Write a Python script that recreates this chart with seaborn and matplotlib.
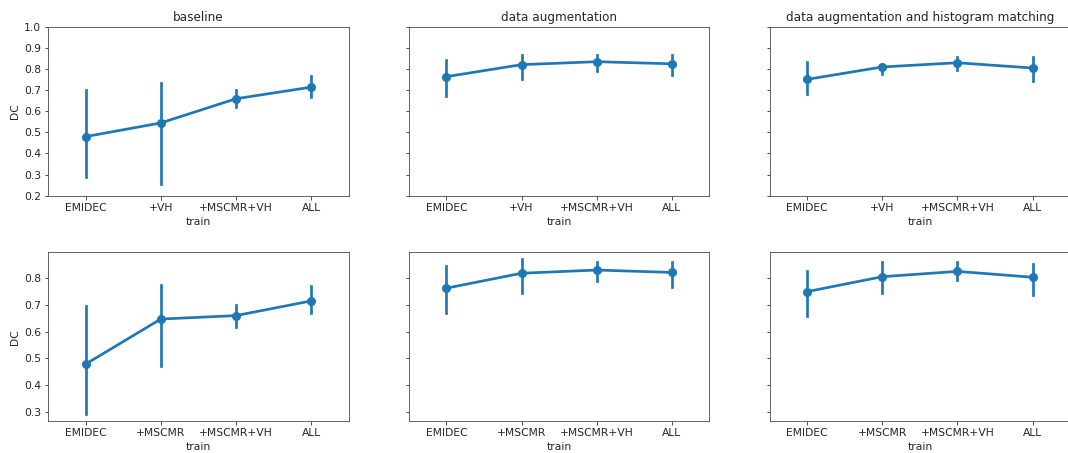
import pandas as pd
import matplotlib
matplotlib.use("Agg")
import matplotlib.pyplot as plt
import seaborn as sns

plt.rcParams["xtick.labelsize"] = 10.8
plt.rcParams["ytick.labelsize"] = 10.8
plt.rcParams["axes.labelsize"] = 10.8
plt.rcParams["text.color"] = "#262626"
plt.rcParams["axes.labelcolor"] = "#262626"
plt.rcParams["xtick.color"] = "#262626"
plt.rcParams["ytick.color"] = "#262626"
plt.rcParams["axes.edgecolor"] = "#444444"

# categories for each row
train_top = ["EMIDEC", "+VH", "+MSCMR+VH", "ALL"]
train_bottom = ["EMIDEC", "+MSCMR", "+MSCMR+VH", "ALL"]

titles = ["baseline", "data augmentation", "data augmentation and histogram matching"]

# DC values: point, lower end, upper end of error bar
# top row
base_top_mid = [0.480, 0.545, 0.660, 0.715]
base_top_lo = [0.290, 0.255, 0.620, 0.668]
base_top_hi = [0.700, 0.735, 0.700, 0.768]

aug_top_mid = [0.765, 0.822, 0.836, 0.826]
aug_top_lo = [0.673, 0.756, 0.790, 0.771]
aug_top_hi = [0.846, 0.867, 0.867, 0.867]

hm_top_mid = [0.752, 0.811, 0.831, 0.806]
hm_top_lo = [0.682, 0.776, 0.795, 0.743]
hm_top_hi = [0.833, 0.827, 0.859, 0.856]

# bottom row
base_bot_mid = [0.478, 0.647, 0.660, 0.715]
base_bot_lo = [0.290, 0.470, 0.617, 0.670]
base_bot_hi = [0.695, 0.773, 0.700, 0.770]

aug_bot_mid = [0.763, 0.819, 0.831, 0.822]
aug_bot_lo = [0.669, 0.744, 0.789, 0.769]
aug_bot_hi = [0.847, 0.872, 0.862, 0.862]

hm_bot_mid = [0.750, 0.806, 0.826, 0.804]
hm_bot_lo = [0.657, 0.744, 0.794, 0.739]
hm_bot_hi = [0.826, 0.862, 0.862, 0.854]

panels = [
    [(base_top_mid, base_top_lo, base_top_hi),
     (aug_top_mid, aug_top_lo, aug_top_hi),
     (hm_top_mid, hm_top_lo, hm_top_hi)],
    [(base_bot_mid, base_bot_lo, base_bot_hi),
     (aug_bot_mid, aug_bot_lo, aug_bot_hi),
     (hm_bot_mid, hm_bot_lo, hm_bot_hi)],
]
row_cats = [train_top, train_bottom]


def to_long(cats, mid, lo, hi):
    # three rows per category: median gives the point, min/max give the bar
    rows = []
    for c, m, l, h in zip(cats, mid, lo, hi):
        for v in (l, m, h):
            rows.append({"train": c, "DC": v})
    return pd.DataFrame(rows)


fig, axes = plt.subplots(2, 3, figsize=(1068 / 72, 453 / 72), dpi=72, sharey="row")
plt.subplots_adjust(left=0.045, right=1.002, top=0.940, bottom=0.071,
                    wspace=0.2, hspace=0.338)

for r in range(2):
    for c in range(3):
        ax = axes[r, c]
        mid, lo, hi = panels[r][c]
        df = to_long(row_cats[r], mid, lo, hi)
        sns.pointplot(
            data=df, x="train", y="DC", ax=ax,
            order=row_cats[r],
            estimator="median", errorbar=("pi", 100),
            color="#1f77b4", linewidth=2.7, markersize=7,
        )
        ax.set_xlabel("train")
        ax.set_ylabel("DC")
        ax.tick_params(labelleft=(c == 0))
        ax.set_xlim(-0.5, 3.5)
        if r == 0:
            ax.set_title(titles[c], fontsize=12)

axes[0, 0].set_ylim(0.2, 1.0)
axes[0, 0].set_yticks([0.2, 0.3, 0.4, 0.5, 0.6, 0.7, 0.8, 0.9, 1.0])
axes[1, 0].set_ylim(0.265, 0.897)
axes[1, 0].set_yticks([0.3, 0.4, 0.5, 0.6, 0.7, 0.8])

fig.savefig("out.png", dpi=72)
